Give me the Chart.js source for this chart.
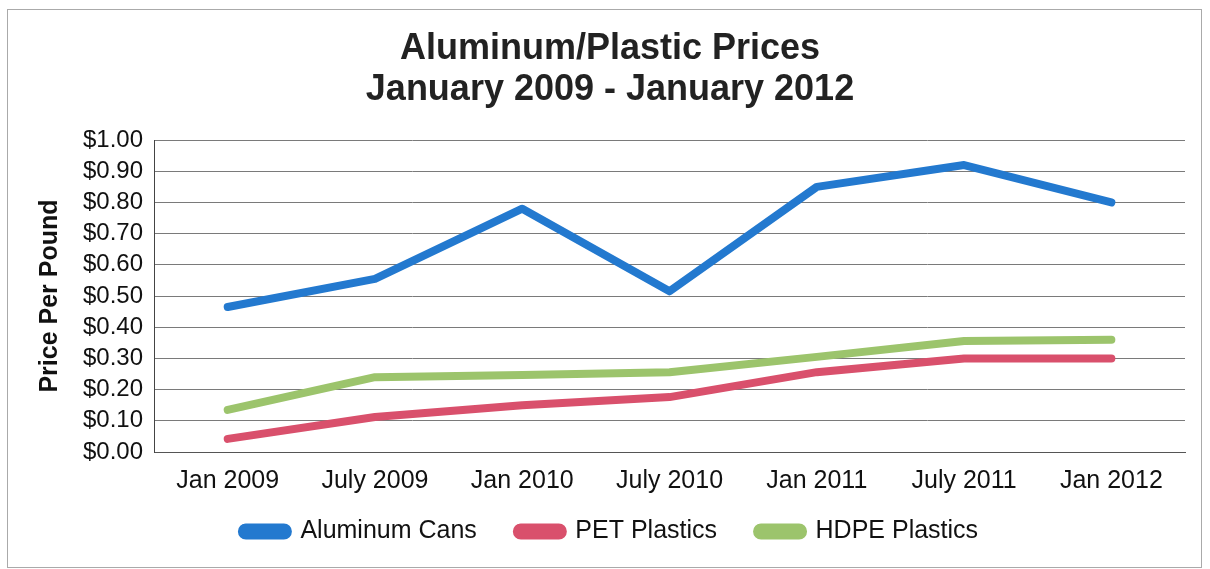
<!DOCTYPE html>
<html>
<head>
<meta charset="utf-8">
<script src="https://cdn.jsdelivr.net/npm/chart.js@4/dist/chart.umd.min.js"></script>
<style>
  html, body { margin: 0; padding: 0; background: #fff; }
  #wrap { position: relative; width: 1210px; height: 569px; }
  #frame { position: absolute; left: 7px; top: 9px; width: 1193px; height: 557px; border: 1px solid #aaa; pointer-events: none; }
</style>
</head>
<body>
<div id="wrap"><canvas id="chart"></canvas><div id="frame"></div></div>
<script>
// data
const months = ['Jan 2009', 'July 2009', 'Jan 2010', 'July 2010', 'Jan 2011', 'July 2011', 'Jan 2012'];
const aluminumCans = [0.465, 0.555, 0.78, 0.515, 0.85, 0.92, 0.80];
const petPlastics  = [0.042, 0.112, 0.15, 0.176, 0.256, 0.30, 0.30];
const hdpePlastics = [0.135, 0.24, 0.247, 0.256, 0.305, 0.356, 0.36];

const FONT = 'Arial, "Liberation Sans", sans-serif';

function series(label, data, color) {
  return {
    label, data,
    borderColor: color,
    backgroundColor: color,
    borderWidth: 8,
    borderCapStyle: 'round',
    borderJoinStyle: 'round',
    pointRadius: 0,
    tension: 0
  };
}

// legend padding is used for both item gaps and row height; keep the wide
// gaps but pull the row back up so it sits closer to the axis labels
const tightLegend = {
  id: 'tightLegend',
  afterInit(chart) {
    const lg = chart.legend;
    if (!lg) return;
    const fit = lg.fit, draw = lg.draw;
    lg.fit = function () { fit.call(this); this.height -= 39; };
    lg.draw = function () {
      const t = this.top;
      this.top -= 31;
      draw.call(this);
      this.top = t;
    };
  }
};

new Chart(document.getElementById('chart'), {
  type: 'line',
  data: {
    labels: months,
    datasets: [
      series('Aluminum Cans', aluminumCans, '#2379cf'),
      series('PET Plastics', petPlastics, '#d9506c'),
      series('HDPE Plastics', hdpePlastics, '#9cc46c')
    ]
  },
  plugins: [tightLegend],
  options: {
    responsive: true,
    maintainAspectRatio: false,
    animation: false,
    layout: { padding: { left: 35, right: 25, top: 29, bottom: 23 } },
    plugins: {
      title: {
        display: true,
        text: ['Aluminum/Plastic Prices', 'January 2009 - January 2012'],
        color: '#222',
        font: { family: FONT, size: 36, weight: 'bold', lineHeight: 1.14 },
        padding: { top: 0, bottom: 29 }
      },
      legend: {
        position: 'bottom',
        labels: {
          color: '#111',
          font: { family: FONT, size: 25 },
          boxWidth: 46,
          boxHeight: 8,
          useBorderRadius: true,
          borderRadius: 4,
          padding: 40
        }
      },
      tooltip: { enabled: false }
    },
    scales: {
      x: {
        offset: true,
        grid: { display: false, drawTicks: false },
        border: { display: true, color: '#555', width: 1 },
        ticks: { color: '#111', font: { family: FONT, size: 25 }, padding: 14 }
      },
      y: {
        min: 0,
        max: 1,
        grid: { color: '#7a7a7a', lineWidth: 1, drawTicks: false },
        border: { display: true, color: '#444', width: 1 },
        ticks: {
          stepSize: 0.1,
          autoSkip: false,
          color: '#111',
          font: { family: FONT, size: 24, lineHeight: 1 },
          padding: 11,
          callback: v => '$' + v.toFixed(2)
        },
        title: {
          display: true,
          text: 'Price Per Pound',
          color: '#111',
          font: { family: FONT, size: 25, weight: 'bold' },
          padding: { top: 0, bottom: 7 }
        }
      }
    }
  }
});
</script>
</body>
</html>
